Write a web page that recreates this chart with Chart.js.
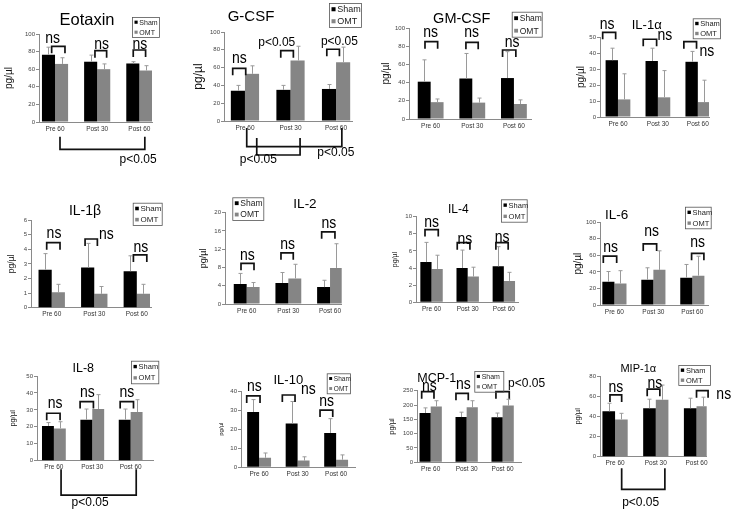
<!DOCTYPE html>
<html><head><meta charset="utf-8">
<script src="https://cdn.jsdelivr.net/npm/chart.js@4/dist/chart.umd.min.js"></script>
<style>
html,body{margin:0;padding:0;background:#fff;}
#wrap{position:relative;width:733px;height:511px;overflow:hidden;background:#fff;}
#wrap canvas{position:absolute;left:0;top:0;}
</style></head><body><div id="wrap"></div>
<script>
// ---------- data ----------
const categories = ['Pre 60', 'Post 30', 'Post 60'];
const seriesNames = ['Sham', 'OMT'];

const eotaxinSham = [76.5, 68.5, 66.5], eotaxinShamErr = [8.5, 7.5, 2];
const eotaxinOmt = [66, 60, 58.5], eotaxinOmtErr = [7, 6, 5.5];
const gcsfSham = [34, 35, 36], gcsfShamErr = [6, 5, 5];
const gcsfOmt = [53, 68, 66], gcsfOmtErr = [9, 16, 17];
const gmcsfSham = [41, 44.5, 45], gmcsfShamErr = [24, 27.5, 29];
const gmcsfOmt = [18.5, 18, 16.5], gmcsfOmtErr = [3.5, 5, 4.5];
const il1aSham = [35.5, 35, 34.5], il1aShamErr = [7.5, 8, 6.5];
const il1aOmt = [11, 12.3, 9.3], il1aOmtErr = [16, 16.7, 13.7];
const il1bSham = [2.6, 2.75, 2.5], il1bShamErr = [1.1, 1.65, 1.05];
const il1bOmt = [1.05, 0.95, 0.95], il1bOmtErr = [0.55, 0.5, 0.65];
const il2Sham = [4.4, 4.6, 3.7], il2ShamErr = [2.3, 2.3, 1.5];
const il2Omt = [3.7, 5.6, 7.9], il2OmtErr = [1.0, 3.1, 5.3];
const il4Sham = [4.7, 4.0, 4.2], il4ShamErr = [2.3, 2.1, 2.3];
const il4Omt = [3.9, 3.0, 2.5], il4OmtErr = [1.6, 1.1, 1.0];
const il6Sham = [28, 30.5, 33], il6ShamErr = [12.5, 14.5, 16];
const il6Omt = [26, 42.5, 35.5], il6OmtErr = [15.5, 23, 23.5];
const il8Sham = [20.5, 24.2, 24.2], il8ShamErr = [2, 6.3, 6.3];
const il8Omt = [19, 30.5, 28.7], il8OmtErr = [4, 8.5, 7.3];
const il10Sham = [29, 23, 18], il10ShamErr = [6.5, 11.5, 7.5];
const il10Omt = [5, 3.5, 4], il10OmtErr = [2.5, 2, 2.5];
const mcp1Sham = [172, 158, 157], mcp1ShamErr = [18, 17, 15];
const mcp1Omt = [195, 192, 198], mcp1OmtErr = [20, 23, 22];
const mip1aSham = [45, 48, 48], mip1aShamErr = [8, 9, 10];
const mip1aOmt = [37, 56.5, 50], mip1aOmtErr = [6, 14.5, 9];

// ---------- layout / annotation config ----------
// marks: ['d', x0, x1, y] bracket with legs down; ['u', x0, x1, yTop, yBot] bracket open upward;
//        ['t', x, yBaseline, text, size]  (x in category units, y in data units)
const panels = [
 {title:'Eotaxin', s:eotaxinSham, se:eotaxinShamErr, o:eotaxinOmt, oe:eotaxinOmtErr, ymax:100, step:20,
  L:39, R:152, T:34, B:122, xr:[-0.38,2.3], tt:[87,25,16.5], yt:[9.3,10], lg:[132,17,27,20,7],
  marks:[['d',-0.08,0.236,86],['t',-0.055,89.4,'ns'],['d',0.947,1.224,81],['t',1.106,83,'ns'],
         ['d',1.855,2.148,81.8],['t',2.013,83,'ns'],['u',0.118,2.13,-16.7,-31],['t',1.97,-47,'p<0.05',12]]},
 {title:'G-CSF', s:gcsfSham, se:gcsfShamErr, o:gcsfOmt, oe:gcsfOmtErr, ymax:100, step:20,
  L:224, R:352, T:32, B:121, xr:[-0.46,2.35], tt:[251,20.7,15], yt:[198.5,12], lg:[329,3,32,24,9],
  marks:[['d',-0.269,0.017,59.2],['t',-0.124,65.5,'ns'],['d',0.786,1.063,79],['t',0.698,84,'p<0.05',12],
         ['d',1.797,2.074,80.6],['t',2.074,85,'p<0.05',12],['u',0.259,1.21,-19,-38.2],['t',0.294,-47.5,'p<0.05',12],
         ['u',0.039,2.127,-7.9,-28.9],['t',1.995,-39,'p<0.05',12]]},
 {title:'GM-CSF', s:gmcsfSham, se:gmcsfShamErr, o:gmcsfOmt, oe:gmcsfOmtErr, ymax:100, step:20,
  L:409, R:531, T:28, B:119, xr:[-0.52,2.41], tt:[461.7,23.3,14.5], yt:[386.7,10], lg:[511.7,11.7,30,25,8.5],
  marks:[['d',-0.136,0.168,85],['t',0,89.8,'ns'],['d',0.847,1.142,84.3],['t',0.984,89.8,'ns'],
         ['d',1.727,2.046,75.8],['t',1.957,79.5,'ns']]},
 {title:'IL-1α', s:il1aSham, se:il1aShamErr, o:il1aOmt, oe:il1aOmtErr, ymax:50, step:10,
  L:600, R:709, T:37, B:117, xr:[-0.45,2.28], tt:[646.7,29,13], yt:[581.7,10], lg:[692.7,18.3,27.3,20,7.5],
  marks:[['d',-0.383,-0.058,52.9],['t',-0.27,54.8,'ns'],['d',0.633,0.968,48.6],['t',1.175,48.1,'ns'],
         ['d',1.65,1.968,47.1],['t',2.225,38.1,'ns']]},
 {title:'IL-1β', s:il1bSham, se:il1bShamErr, o:il1bOmt, oe:il1bOmtErr, ymax:6, step:1,
  L:31, R:151.7, T:220, B:307.7, xr:[-0.487,2.35], tt:[85,215,14], yt:[11.7,8.5], lg:[132.7,202.7,29,22.3,8],
  marks:[['d',-0.118,0.195,4.45],['t',0.054,4.75,'ns'],['d',0.784,1.073,4.7],['t',1.285,4.68,'ns'],
         ['d',1.92,2.235,3.61],['t',2.094,3.84,'ns']]},
 {title:'IL-2', s:il2Sham, se:il2ShamErr, o:il2Omt, oe:il2OmtErr, ymax:20, step:4,
  L:225, R:341.7, T:212.7, B:304, xr:[-0.52,2.28], tt:[305,208.3,13.5], yt:[203.3,9], lg:[232.3,197.3,31,22.7,8.5],
  marks:[['d',-0.136,0.176,8.9],['t',0.015,9.6,'ns'],['d',0.823,1.118,11.2],['t',0.984,12,'ns'],
         ['d',1.799,2.118,15.8],['t',1.974,16.6,'ns']]},
 {title:'IL-4', s:il4Sham, se:il4ShamErr, o:il4Omt, oe:il4OmtErr, ymax:10, step:2,
  L:416, R:518.3, T:216.7, B:302.3, xr:[-0.43,2.4], tt:[458.3,212.7,12], yt:[395,7], lg:[501,199.3,25.7,22.4,7.5],
  marks:[['d',-0.181,0.186,8.5],['t',0,8.83,'ns'],['d',0.711,1.062,6.97],['t',0.924,6.8,'ns'],
         ['d',1.78,2.12,6.97],['t',1.954,7.1,'ns']]},
 {title:'IL-6', s:il6Sham, se:il6ShamErr, o:il6Omt, oe:il6OmtErr, ymax:100, step:20,
  L:600, R:708.3, T:222.3, B:305, xr:[-0.37,2.41], tt:[616.7,219.3,13.5], yt:[578.3,10], lg:[685,206.7,25.7,21.6,7.5],
  marks:[['d',-0.285,0.058,59.2],['t',-0.096,63.7,'ns'],['d',0.74,1.084,73.8],['t',0.956,83.8,'ns'],
         ['d',1.981,2.297,62.5],['t',2.135,69.8,'ns']]},
 {title:'IL-8', s:il8Sham, se:il8ShamErr, o:il8Omt, oe:il8OmtErr, ymax:50, step:10,
  L:37, R:153.3, T:376, B:460.7, xr:[-0.44,2.59], tt:[83.3,372.3,12.5], yt:[13.3,7.5], lg:[131,360.7,27.3,22.6,7.5],
  marks:[['d',-0.187,0.161,28],['t',0.03,30.9,'ns'],['d',0.683,1.03,34.9],['t',0.873,37.8,'ns'],
         ['d',1.727,2.074,34.9],['t',1.902,37.8,'ns'],['u',0.187,2.145,-5,-20.3],['t',0.944,-26.8,'p<0.05',12]]},
 {title:'IL-10', s:il10Sham, se:il10ShamErr, o:il10Omt, oe:il10OmtErr, ymax:40, step:10,
  L:241, R:355, T:391, B:467.3, xr:[-0.47,2.49], tt:[288.3,384.3,13], yt:[221.7,6], lg:[326.7,373.3,23.3,20,6.5],
  marks:[['d',-0.322,0.024,37.4],['t',-0.124,40,'ns'],['d',0.603,0.933,37.9],['t',1.278,38.4,'ns'],
         ['d',1.582,1.912,30],['t',1.756,32.3,'ns']]},
 {title:'MCP-1', s:mcp1Sham, se:mcp1ShamErr, o:mcp1Omt, oe:mcp1OmtErr, ymax:250, step:50,
  L:417, R:521.7, T:390.7, B:462.3, xr:[-0.38,2.53], tt:[436.7,381.7,12.5], yt:[391.7,7.5], lg:[474.3,371,29,20.7,7],
  marks:[['d',-0.25,0.092,246.5],['t',-0.038,250,'ns'],['d',0.703,1.045,240.9],['t',0.906,255,'ns'],
         ['d',1.814,2.184,246.5],['t',2.667,264,'p<0.05',12]]},
 {title:'MIP-1α', s:mip1aSham, se:mip1aShamErr, o:mip1aOmt, oe:mip1aOmtErr, ymax:80, step:20,
  L:600, R:706.7, T:376, B:456.7, xr:[-0.37,2.25], tt:[638.3,371.7,11], yt:[578.3,7.5], lg:[678.3,365,31.7,20,7.5],
  marks:[['d',-0.125,0.162,61.2],['t',0.022,63.9,'ns'],['d',0.789,1.1,66.9],['t',0.978,67.9,'ns'],
         ['d',2.0,2.284,65.5],['t',2.669,56.9,'ns'],['u',0.162,1.223,-11.5,-32.3],['t',0.628,-48.9,'p<0.05',12]]}
];

const FAM = '"Liberation Sans", Arial, Helvetica, sans-serif';
const W = 733, H = 511, XH = 14;
const SHAM_COLOR = '#000000', OMT_COLOR = '#858585', ERR_COLOR = '#9a9a9a', AXIS_COLOR = '#8a8a8a';
Chart.defaults.font.family = FAM;

function decoPlugin(p) {
  return {
    id: 'deco',
    afterDatasetsDraw(chart) {
      const ctx = chart.ctx, xs = chart.scales.x, ys = chart.scales.y;
      ctx.save();
      // error bars (upper only)
      [[p.s, p.se], [p.o, p.oe]].forEach(([vals, errs], di) => {
        chart.getDatasetMeta(di).data.forEach((bar, i) => {
          const x = Math.round(bar.x) + 0.5;
          const y0 = ys.getPixelForValue(vals[i]);
          const y1 = ys.getPixelForValue(vals[i] + errs[i]);
          ctx.strokeStyle = ERR_COLOR; ctx.lineWidth = 1;
          ctx.beginPath(); ctx.moveTo(x, y0); ctx.lineTo(x, y1);
          ctx.moveTo(x - 2, y1); ctx.lineTo(x + 2, y1); ctx.stroke();
        });
      });
      // brackets and significance text
      ctx.strokeStyle = '#111'; ctx.fillStyle = '#000'; ctx.lineWidth = 1.7;
      p.marks.forEach(m => {
        if (m[0] === 'd') {
          const x0 = xs.getPixelForValue(m[1]), x1 = xs.getPixelForValue(m[2]), y = ys.getPixelForValue(m[3]);
          ctx.beginPath(); ctx.moveTo(x0, y + 7); ctx.lineTo(x0, y); ctx.lineTo(x1, y); ctx.lineTo(x1, y + 7); ctx.stroke();
        } else if (m[0] === 'u') {
          const x0 = xs.getPixelForValue(m[1]), x1 = xs.getPixelForValue(m[2]);
          const yt = ys.getPixelForValue(m[3]), yb = ys.getPixelForValue(m[4]);
          ctx.beginPath(); ctx.moveTo(x0, yt); ctx.lineTo(x0, yb); ctx.lineTo(x1, yb); ctx.lineTo(x1, yt); ctx.stroke();
        } else if (m[0] === 't') {
          const sz = m[4] || 14;
          ctx.font = sz + 'px ' + FAM;
          ctx.textAlign = 'center'; ctx.textBaseline = 'alphabetic';
          ctx.save();
          ctx.translate(xs.getPixelForValue(m[1]), ys.getPixelForValue(m[2]));
          ctx.scale(1, m[3] === 'ns' ? 1.15 : 1.05);
          ctx.fillText(m[3], 0, 0);
          ctx.restore();
        }
      });
      ctx.restore();
    },
    afterDraw(chart) {
      const ctx = chart.ctx;
      ctx.save();
      // title
      ctx.fillStyle = '#000';
      ctx.font = p.tt[2] + 'px ' + FAM;
      ctx.textAlign = 'center'; ctx.textBaseline = 'alphabetic';
      ctx.fillText(p.title, p.tt[0], p.tt[1]);
      // legend
      const [lx, ly, lw, lh, fs] = p.lg;
      ctx.strokeStyle = '#555'; ctx.lineWidth = 0.8;
      ctx.strokeRect(lx + 0.5, ly + 0.5, lw, lh);
      ctx.font = fs + 'px ' + FAM; ctx.textAlign = 'left'; ctx.textBaseline = 'middle';
      const ms = Math.max(2.5, fs * 0.45);
      [[SHAM_COLOR, 0.26], [OMT_COLOR, 0.76]].forEach(([c, f], k) => {
        const cy = ly + lh * f;
        ctx.fillStyle = c; ctx.fillRect(lx + 2.5, cy - ms / 2, ms, ms);
        ctx.fillStyle = '#222'; ctx.fillText(seriesNames[k], lx + 3 + ms + 1.2, cy + 0.5);
      });
      ctx.restore();
    }
  };
}

const wrap = document.getElementById('wrap');
panels.forEach(p => {
  const cv = document.createElement('canvas');
  cv.width = W; cv.height = H;
  wrap.appendChild(cv);
  const padL = Math.max(0, p.yt[0] - 0.6 * p.yt[1]);
  new Chart(cv, {
    type: 'bar',
    data: {
      datasets: [
        {label: seriesNames[0], data: p.s.map((v, i) => ({x: i, y: v})), backgroundColor: SHAM_COLOR,
         categoryPercentage: 0.62, barPercentage: 1.0},
        {label: seriesNames[1], data: p.o.map((v, i) => ({x: i, y: v})), backgroundColor: OMT_COLOR,
         categoryPercentage: 0.62, barPercentage: 1.0}
      ]
    },
    options: {
      responsive: false, animation: false, devicePixelRatio: 1, events: [],
      layout: {padding: {left: padL, top: p.T, right: W - p.R, bottom: H - p.B - XH}},
      plugins: {legend: {display: false}, tooltip: {enabled: false}, title: {display: false}},
      scales: {
        x: {
          type: 'linear', min: p.xr[0], max: p.xr[1], bounds: 'data', offset: false,
          afterBuildTicks: s => { s.ticks = categories.map((c, i) => ({value: i})); },
          afterFit: s => { s.height = XH; },
          ticks: {autoSkip: false, maxRotation: 0, padding: 3, color: '#333', font: {size: 6.5},
                  callback: v => categories[v] !== undefined ? categories[v] : ''},
          grid: {display: false, drawTicks: false},
          border: {display: true, color: AXIS_COLOR, width: 1}
        },
        y: {
          min: 0, max: p.ymax,
          afterFit: s => { s.width = p.L - padL; },
          ticks: {stepSize: p.step, padding: 1, color: '#444', font: {size: 6}},
          title: {display: true, text: 'pg/µl', color: '#111', padding: 0, font: {size: p.yt[1]}},
          grid: {display: true, drawOnChartArea: false, drawTicks: true, tickLength: 3, color: AXIS_COLOR},
          border: {display: true, color: AXIS_COLOR, width: 1}
        }
      }
    },
    plugins: [decoPlugin(p)]
  });
});
</script></body></html>
